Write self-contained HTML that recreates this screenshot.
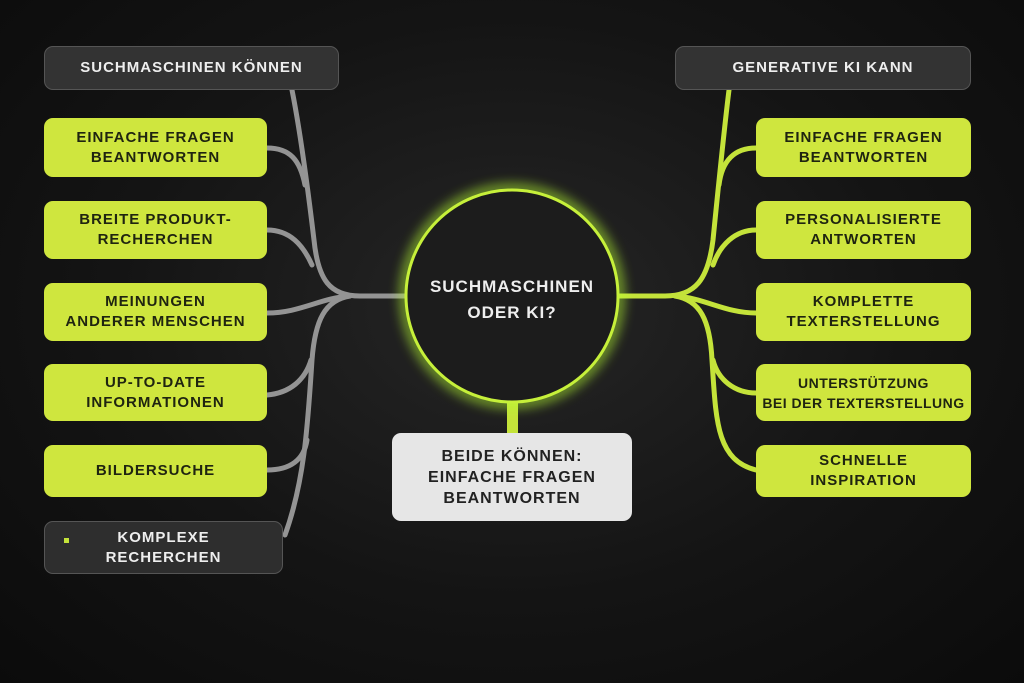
<!DOCTYPE html>
<html><head><meta charset="utf-8"><style>
body{margin:0;width:1024px;height:683px;overflow:hidden;background:radial-gradient(ellipse at 50% 45%,#262626 0%,#141414 55%,#0b0b0b 100%);font-family:"Liberation Sans",sans-serif;}
.b{position:absolute;box-sizing:border-box;display:flex;align-items:center;justify-content:center;text-align:center;font-weight:bold;letter-spacing:1px;font-size:15px;line-height:20px;border-radius:9px;}
.g{background:#cfe63e;color:#1f2410;}
.d{background:#333;color:#eee;border:1px solid #555;}
</style></head><body>
<svg width="1024" height="683" style="position:absolute;left:0;top:0">
<defs><filter id="gl" x="-30%" y="-30%" width="160%" height="160%"><feGaussianBlur stdDeviation="6"/></filter></defs>
<g fill="none" stroke="#949494" stroke-width="5" stroke-linecap="round">
<path d="M292 90 C300 130 308 190 314 240 C318 280 330 296 360 296 L406 296"/>
<path d="M267 148 C290 148 300 160 305 185"/>
<path d="M267 230 C290 230 303 245 312 265"/>
<path d="M267 313 C300 313 320 298 350 296"/>
<path d="M350 296 C325 300 315 320 312 360 C308 420 305 480 285 535"/>
<path d="M267 395 C290 393 305 380 311 360"/>
<path d="M267 470 C290 470 304 460 307 440"/>
</g>
<g fill="none" stroke="#c4e33a" stroke-width="5" stroke-linecap="round">
<path d="M729 90 C724 130 718 190 713 240 C708 280 695 296 665 296 L618 296"/>
<path d="M756 148 C735 148 722 160 719 185"/>
<path d="M756 230 C735 230 720 245 713 265"/>
<path d="M756 313 C725 313 705 298 675 296"/>
<path d="M675 296 C700 300 710 320 712 360 C716 420 716 460 756 470"/>
<path d="M756 393 C735 393 718 380 713 360"/>
</g>
<rect x="507" y="400" width="11" height="34" fill="#c4e33a"/>
<circle cx="512" cy="296" r="107" fill="none" stroke="#b8ff30" stroke-width="8" filter="url(#gl)" opacity="0.8"/>
<circle cx="512" cy="296" r="106" fill="#1c1c1c" stroke="#c6f03a" stroke-width="3"/>
<text x="512" y="292" fill="#eee" font-family="Liberation Sans" font-weight="bold" font-size="17" letter-spacing="1" text-anchor="middle">SUCHMASCHINEN</text>
<text x="512" y="318" fill="#eee" font-family="Liberation Sans" font-weight="bold" font-size="17" letter-spacing="1" text-anchor="middle">ODER KI?</text>
</svg>
<div class="b d" style="left:44px;top:46px;width:295px;height:44px;font-size:15px">SUCHMASCHINEN KÖNNEN</div>
<div class="b d" style="left:675px;top:46px;width:296px;height:44px">GENERATIVE KI KANN</div>
<div class="b g" style="left:44px;top:118px;width:223px;height:59px">EINFACHE FRAGEN<br>BEANTWORTEN</div>
<div class="b g" style="left:44px;top:201px;width:223px;height:58px">BREITE PRODUKT-<br>RECHERCHEN</div>
<div class="b g" style="left:44px;top:283px;width:223px;height:58px">MEINUNGEN<br>ANDERER MENSCHEN</div>
<div class="b g" style="left:44px;top:364px;width:223px;height:57px">UP-TO-DATE<br>INFORMATIONEN</div>
<div class="b g" style="left:44px;top:445px;width:223px;height:52px">BILDERSUCHE</div>
<div class="b d" style="left:44px;top:521px;width:239px;height:53px;background:#2e2e2e">KOMPLEXE<br>RECHERCHEN</div>
<div style="position:absolute;left:64px;top:538px;width:5px;height:5px;background:#c4e33a"></div>
<div class="b g" style="left:756px;top:118px;width:215px;height:59px">EINFACHE FRAGEN<br>BEANTWORTEN</div>
<div class="b g" style="left:756px;top:201px;width:215px;height:58px">PERSONALISIERTE<br>ANTWORTEN</div>
<div class="b g" style="left:756px;top:283px;width:215px;height:58px">KOMPLETTE<br>TEXTERSTELLUNG</div>
<div class="b g" style="left:756px;top:364px;width:215px;height:57px;font-size:14px;letter-spacing:0.5px">UNTERSTÜTZUNG<br>BEI DER TEXTERSTELLUNG</div>
<div class="b g" style="left:756px;top:445px;width:215px;height:52px">SCHNELLE<br>INSPIRATION</div>
<div class="b" style="left:392px;top:433px;width:240px;height:88px;background:#e6e6e6;color:#222;font-size:16px;line-height:21px">BEIDE KÖNNEN:<br>EINFACHE FRAGEN<br>BEANTWORTEN</div>
</body></html>
